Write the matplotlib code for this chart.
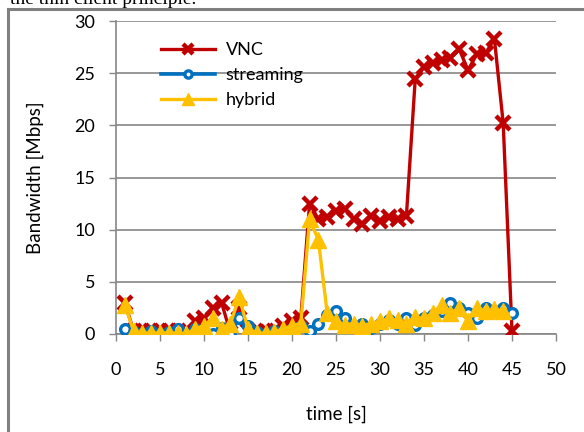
import matplotlib
matplotlib.use("Agg")
import matplotlib.pyplot as plt
from matplotlib.lines import Line2D

# data (one sample per second)
t_vnc = list(range(1, 46))
vnc = [3.0, 0.3, 0.3, 0.3, 0.3, 0.3, 0.3, 0.2, 1.2, 1.5,
       2.5, 3.0, 0.1, 2.5, 0.3, 0.2, 0.3, 0.3, 0.8, 1.2,
       1.5, 12.5, 11.0, 11.2, 11.8, 12.0, 11.0, 10.5, 11.3, 10.8,
       11.2, 11.0, 11.3, 24.4, 25.6, 26.0, 26.3, 26.5, 27.3, 25.3,
       26.8, 26.9, 28.3, 20.2, 0.3]

t_streaming = list(range(1, 46))
streaming = [0.5, 0.2, 0.0, 0.3, 0.0, 0.2, 0.5, 0.0, 0.5, 0.2,
             0.0, 0.6, 0.0, 1.5, 0.8, 0.2, 0.0, 0.3, 0.2, 0.5,
             0.8, 0.3, 1.0, 1.8, 2.2, 1.5, 0.8, 1.0, 0.6, 1.0,
             1.3, 1.0, 1.5, 0.9, 1.5, 1.8, 2.2, 3.0, 2.5, 2.0,
             1.5, 2.5, 2.2, 2.5, 2.0]

t_hybrid = list(range(1, 45))
hybrid = [2.8, 0.3, 0.1, 0.1, 0.1, 0.1, 0.1, 0.0, 0.5, 0.8,
          1.5, 0.5, 1.0, 3.5, 0.5, 0.1, 0.1, 0.2, 0.5, 0.8,
          1.0, 11.0, 9.0, 2.0, 1.2, 0.9, 1.0, 0.8, 1.0, 1.2,
          1.5, 1.3, 1.0, 1.6, 1.5, 2.0, 2.8, 2.0, 2.5, 1.2,
          2.5, 2.2, 2.4, 2.2]

x_ticks = [0, 5, 10, 15, 20, 25, 30, 35, 40, 45, 50]
y_ticks = [0, 5, 10, 15, 20, 25, 30]

plt.rcParams['font.family'] = ['Lato', 'DejaVu Sans']

W, H = 584, 432
fig = plt.figure(figsize=(W / 100, H / 100), dpi=100)
ax = fig.add_axes([116 / W, 1 - 334 / H, 440 / W, 313 / H])

grey = '#868686'
# 画图
ax.plot(t_vnc, vnc, color='#C00000', lw=2.4, marker='x', ms=10, mew=3.2,
        label='VNC', zorder=3)
ax.plot(t_streaming, streaming, color='#0070C0', lw=2.6, marker='o', ms=7,
        mew=2.4, mfc='white', label='streaming', zorder=4)
ax.plot(t_hybrid, hybrid, color='#FFC000', lw=2.4, marker='^', ms=11,
        label='hybrid', zorder=5)

ax.set_xlim(0, 50)
ax.set_ylim(0, 30)
ax.set_xticks(x_ticks)
ax.set_yticks(y_ticks)
ax.tick_params(labelsize=13, color=grey, length=5, width=1, direction='out',
               pad=15)
ax.tick_params(axis='y', pad=10)
ax.yaxis.grid(True, color=grey, lw=1.2)
ax.set_axisbelow(True)
for s in ['top', 'right']:
    ax.spines[s].set_visible(False)
for s in ['left', 'bottom']:
    ax.spines[s].set_color(grey)
    ax.spines[s].set_linewidth(1.2)

ax.set_xlabel('time [s]', fontsize=13.5, labelpad=20)
ax.set_ylabel('Bandwidth [Mbps]', fontsize=13.5, labelpad=22)

leg = ax.legend(loc='upper left', bbox_to_anchor=(0.085, 0.955), frameon=False,
                fontsize=13, handlelength=3.0, handletextpad=0.6,
                labelspacing=0.5, borderaxespad=0, markerscale=0.75)

# outer frame and clipped caption above it
fig.add_artist(Line2D([8 / W, 8 / W], [0, 1 - 8.5 / H], color='#808080',
                      lw=2.2, transform=fig.transFigure))
fig.add_artist(Line2D([8 / W, 1], [1 - 8.5 / H, 1 - 8.5 / H], color='#808080',
                      lw=2.2, transform=fig.transFigure))
fig.text(10 / W, 1 - 4 / H, 'the thin client principle.', family='Liberation Serif',
         fontsize=14, va='baseline')

fig.savefig('out.png', dpi=100)
